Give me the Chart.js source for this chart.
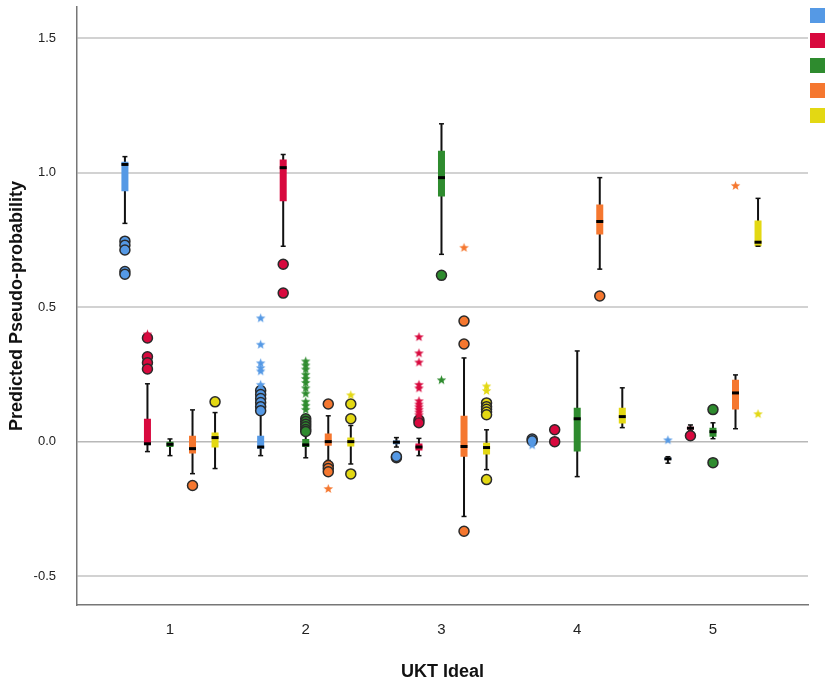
<!DOCTYPE html>
<html>
<head>
<meta charset="utf-8">
<script src="https://cdn.jsdelivr.net/npm/chart.js@4"></script>
<style>
  html, body { margin: 0; padding: 0; background: #fff; }
</style>
</head>
<body>
<canvas id="chart" width="829" height="687"></canvas>
<script>
// ===== Data =====
const groups = [1, 2, 3, 4, 5];

// per group: [lower whisker, Q1, median, Q3, upper whisker]  (null = no box drawn)
const blueBox = [
  [0.811, 0.93, 1.03, 1.04, 1.059],
  [-0.052, -0.026, -0.02, 0.022, 0.10],
  [-0.02, -0.01, -0.002, 0.004, 0.015],
  null,
  [-0.08, -0.068, -0.064, -0.06, -0.056]
];
const redBox = [
  [-0.037, -0.011, -0.008, 0.085, 0.215],
  [0.726, 0.893, 1.018, 1.048, 1.067],
  [-0.052, -0.033, -0.02, -0.007, 0.012],
  null,
  [0.04, 0.045, 0.05, 0.055, 0.062]
];
const greenBox = [
  [-0.052, -0.02, -0.01, 0.0, 0.01],
  [-0.06, -0.02, -0.012, 0.01, 0.035],
  [0.696, 0.911, 0.981, 1.081, 1.181],
  [-0.13, -0.037, 0.085, 0.126, 0.337],
  [0.011, 0.018, 0.037, 0.052, 0.07]
];
const orangeBox = [
  [-0.119, -0.044, -0.026, 0.022, 0.118],
  [-0.07, -0.015, 0.0, 0.03, 0.096],
  [-0.278, -0.056, -0.018, 0.096, 0.311],
  [0.641, 0.77, 0.818, 0.881, 0.981],
  [0.048, 0.119, 0.181, 0.23, 0.248]
];
const yellowBox = [
  [-0.1, -0.022, 0.015, 0.034, 0.108],
  [-0.083, -0.018, 0.0, 0.015, 0.06],
  [-0.104, -0.048, -0.022, -0.004, 0.044],
  [0.052, 0.067, 0.093, 0.126, 0.2],
  [0.726, 0.726, 0.741, 0.822, 0.904]
];

// outliers (circles) per group
const blueOut = [[0.745, 0.73, 0.712, 0.632, 0.622], [0.19, 0.175, 0.16, 0.145, 0.13, 0.115], [-0.06, -0.055], [0.01, 0.003], []];
const redOut = [[0.385, 0.315, 0.293, 0.27], [0.659, 0.552], [0.08, 0.07], [0.044, 0.0], [0.022]];
const greenOut = [[], [0.085, 0.075, 0.065, 0.055, 0.045, 0.038], [0.618], [], [0.119, -0.078]];
const orangeOut = [[-0.163], [0.14, -0.089, -0.1, -0.112], [0.448, 0.363, -0.333], [0.541], []];
const yellowOut = [[0.148], [0.14, 0.085, -0.12], [0.144, 0.13, 0.12, 0.11, 0.10, -0.141], [], []];

// extremes (stars) per group
const blueExt = [[], [0.46, 0.362, 0.293, 0.275, 0.263, 0.213], [], [-0.012], [0.007]];
const redExt = [[0.40], [], [0.39, 0.33, 0.296, 0.213, 0.2, 0.152, 0.14, 0.13, 0.12, 0.11, 0.10], [], []];
const greenExt = [[], [0.30, 0.285, 0.27, 0.25, 0.235, 0.22, 0.20, 0.18, 0.15, 0.135, 0.12], [0.23], [], []];
const orangeExt = [[], [-0.174], [0.722], [], [0.952]];
const yellowExt = [[], [0.174], [0.207, 0.19], [], [0.104]];

const yTicks = [-0.5, 0.0, 0.5, 1.0, 1.5];

// ===== Styles =====
const colors = ['#5599e5', '#d8093e', '#2e8b2e', '#f5772f', '#e3d813'];
const series = [
  { box: blueBox, out: blueOut, ext: blueExt },
  { box: redBox, out: redOut, ext: redExt },
  { box: greenBox, out: greenOut, ext: greenExt },
  { box: orangeBox, out: orangeOut, ext: orangeExt },
  { box: yellowBox, out: yellowOut, ext: yellowExt }
];
const clusterStep = 0.166;
const xPos = (g, k) => g + (k - 2) * clusterStep;

// small filled star for extreme values
function makeStar(color) {
  const c = document.createElement('canvas');
  c.width = 11; c.height = 11;
  const ctx = c.getContext('2d');
  ctx.fillStyle = color;
  ctx.beginPath();
  for (let i = 0; i < 10; i++) {
    const r = i % 2 === 0 ? 5 : 2.1;
    const a = -Math.PI / 2 + i * Math.PI / 5;
    const px = 5.5 + r * Math.cos(a), py = 6 + r * Math.sin(a);
    if (i === 0) ctx.moveTo(px, py); else ctx.lineTo(px, py);
  }
  ctx.closePath();
  ctx.fill();
  return c;
}

// ===== Build datasets =====
const whiskerData = [];
const capData = [];
const medianData = [];
const datasets = [];

series.forEach((s, k) => {
  const boxData = [];
  const outData = [];
  const extData = [];
  groups.forEach((g, gi) => {
    const x = xPos(g, k);
    const b = s.box[gi];
    if (b) {
      whiskerData.push({ x, y: b[0] }, { x, y: b[4] }, { x, y: null });
      capData.push({ x, y: b[0] }, { x, y: b[4] });
      boxData.push({ x, y: b[1] }, { x, y: b[3] }, { x, y: null });
      medianData.push({ x, y: b[2] });
    }
    s.out[gi].forEach(v => outData.push({ x, y: v }));
    s.ext[gi].forEach(v => extData.push({ x, y: v }));
  });

  datasets.push({
    type: 'line', data: boxData, borderColor: colors[k], borderWidth: 7,
    borderCapStyle: 'butt', pointRadius: 0, spanGaps: false, order: 9
  });
  datasets.push({
    type: 'scatter', data: outData, pointStyle: 'circle', pointRadius: 5,
    backgroundColor: colors[k], borderColor: '#2a2a2a', borderWidth: 1.5, order: 2
  });
  datasets.push({
    type: 'scatter', data: extData, pointStyle: makeStar(colors[k]), order: 1
  });
});

datasets.push({
  type: 'line', data: whiskerData, borderColor: '#111', borderWidth: 2,
  borderCapStyle: 'butt', pointRadius: 0, spanGaps: false, order: 10
});
datasets.push({
  type: 'scatter', data: capData, pointStyle: 'line', pointRadius: 2.5,
  borderColor: '#111', borderWidth: 1.5, order: 7
});
datasets.push({
  type: 'scatter', data: medianData, pointStyle: 'line', pointRadius: 3.5,
  borderColor: '#000', borderWidth: 3, order: 8
});

// colour swatches at the right edge (labels are cut off in the original)
const swatches = {
  id: 'swatches',
  afterDraw(chart) {
    const ctx = chart.ctx;
    colors.forEach((c, i) => {
      ctx.fillStyle = c;
      ctx.fillRect(810, 8 + i * 25, 15, 15);
    });
  }
};

new Chart(document.getElementById('chart'), {
  type: 'scatter',
  data: { datasets },
  plugins: [swatches],
  options: {
    responsive: false,
    animation: false,
    layout: { padding: { top: 5, right: 21, left: 0, bottom: 0 } },
    plugins: { legend: { display: false }, tooltip: { enabled: false } },
    scales: {
      x: {
        type: 'linear', min: 0.315, max: 5.70, offset: false,
        afterBuildTicks: axis => { axis.ticks = groups.map(v => ({ value: v })); },
        afterFit: axis => {
          axis.height = 82;
          axis.paddingLeft = 0; axis.paddingRight = 0;
        },
        grid: { display: false, drawTicks: false },
        border: { color: '#777', width: 1.5 },
        ticks: {
          padding: 16, color: '#222',
          font: { family: 'Liberation Sans, Arial', size: 15 },
          callback: v => String(v)
        },
        title: {
          display: true, text: 'UKT Ideal', color: '#111',
          font: { family: 'Liberation Sans, Arial', size: 18, weight: 'bold' },
          padding: { top: 0, bottom: 4 }
        }
      },
      y: {
        min: -0.607, max: 1.615,
        afterBuildTicks: axis => { axis.ticks = yTicks.map(v => ({ value: v })); },
        afterFit: axis => {
          axis.width = 77;
          axis.paddingTop = 0; axis.paddingBottom = 0;
        },
        grid: {
          drawTicks: false,
          color: ctx => ctx.tick && ctx.tick.value === 0 ? '#b8b8b8' : '#d2d2d2',
          lineWidth: ctx => ctx.tick && ctx.tick.value === 0 ? 1.5 : 2
        },
        border: { color: '#777', width: 1.5 },
        ticks: {
          padding: 21, color: '#222',
          font: { family: 'Liberation Sans, Arial', size: 13 },
          callback: v => Number(v).toFixed(1)
        },
        title: {
          display: true, text: 'Predicted Pseudo-probability', color: '#111',
          font: { family: 'Liberation Sans, Arial', size: 18, weight: 'bold' },
          padding: { top: 6, bottom: 0 }
        }
      }
    }
  }
});
</script>
</body>
</html>
